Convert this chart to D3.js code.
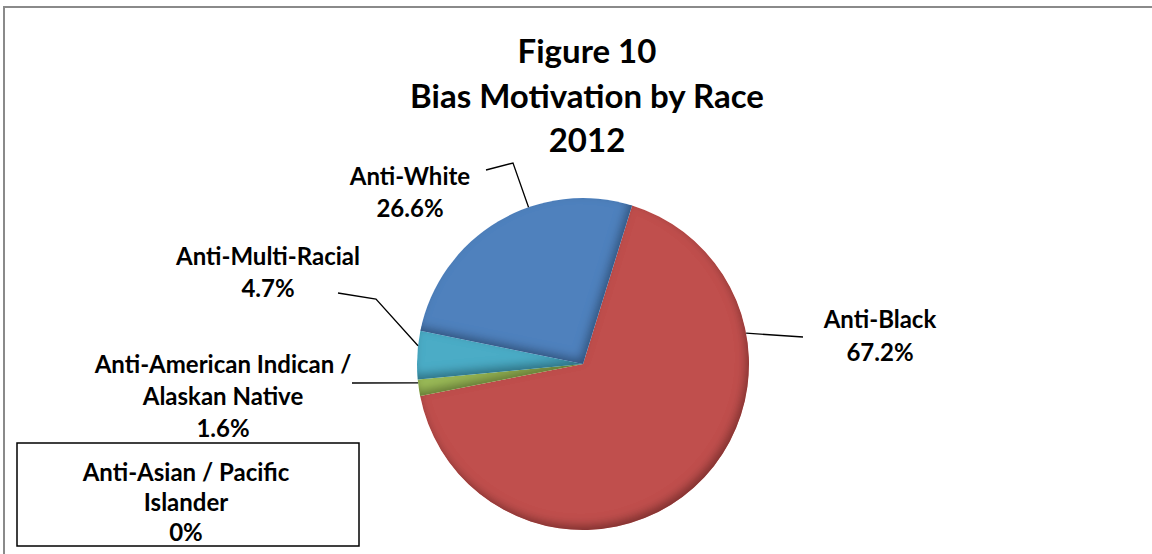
<!DOCTYPE html>
<html>
<head>
<meta charset="utf-8">
<script src="https://cdn.jsdelivr.net/npm/d3@7/dist/d3.min.js"></script>
<style>
html,body{margin:0;padding:0;background:#fff;}
svg text{font-family:Lato,"Open Sans",sans-serif;font-weight:bold;fill:#000;}
</style>
</head>
<body>
<svg id="chart" width="1152" height="554"></svg>
<script>
// ---- data ----
const categories = ["Anti-Black", "Anti-American Indican / Alaskan Native", "Anti-Multi-Racial", "Anti-White", "Anti-Asian / Pacific Islander"];
const values = [67.2, 1.6, 4.7, 26.6, 0];
const valueLabels = ["67.2%", "1.6%", "4.7%", "26.6%", "0%"];
const colors = ["#C0504D", "#9BBB59", "#4BACC6", "#4F81BD", "#8064A2"];
const titleLines = ["Figure 10", "Bias Motivation by Race", "2012"];
const labelLines = [
  ["Anti-Black", "67.2%"],
  ["Anti-American Indican /", "Alaskan Native", "1.6%"],
  ["Anti-Multi-Racial", "4.7%"],
  ["Anti-White", "26.6%"],
  ["Anti-Asian / Pacific", "Islander", "0%"]
];

const svg = d3.select("#chart");
const W = 1152, H = 554;

// frame
svg.append("rect").attr("x", 4).attr("y", 7).attr("width", W + 10).attr("height", H + 10)
  .attr("fill", "none").attr("stroke", "#8a8a8a").attr("stroke-width", 2);

// filter for bevel / inner shadow
const defs = svg.append("defs");
const f = defs.append("filter").attr("id", "bevel").attr("x", "-20%").attr("y", "-20%").attr("width", "140%").attr("height", "140%");
f.append("feGaussianBlur").attr("in", "SourceAlpha").attr("stdDeviation", 5).attr("result", "blur");
f.append("feOffset").attr("in", "blur").attr("dx", -3).attr("dy", -5).attr("result", "off");
f.append("feComposite").attr("in", "SourceAlpha").attr("in2", "off").attr("operator", "arithmetic")
  .attr("k2", 1).attr("k3", -1).attr("result", "edge");
f.append("feFlood").attr("flood-color", "#000").attr("flood-opacity", 0.6).attr("result", "flood");
f.append("feComposite").attr("in", "flood").attr("in2", "edge").attr("operator", "in").attr("result", "shadow");
const fm = f.append("feMerge");
fm.append("feMergeNode").attr("in", "SourceGraphic");
fm.append("feMergeNode").attr("in", "shadow");

// pie
const cx = 583, cy = 364, R = 166;
const startDeg = 17.2;
const pie = d3.pie().sort(null).value(d => d)
  .startAngle(startDeg * Math.PI / 180)
  .endAngle(startDeg * Math.PI / 180 + 2 * Math.PI);
const arcs = pie(values);
const arc = d3.arc().innerRadius(0).outerRadius(R);

const g = svg.append("g").attr("transform", `translate(${cx},${cy})`);
g.selectAll("path.slice").data(arcs.filter(d => d.value > 0)).enter().append("path")
  .attr("class", "slice")
  .attr("d", arc)
  .attr("fill", (d) => colors[d.index])
  .attr("filter", "url(#bevel)");

// title
const title = svg.append("text").attr("text-anchor", "middle").style("font-size", "33px");
titleLines.forEach((t, i) => {
  title.append("tspan").attr("x", 587).attr("y", 63 + i * 44.5).text(t);
});

// label layout (positions of label text and leader line elbows)
const labelLayout = [
  {x: 880, y: 328, lh: 33, attach: 0.257, pts: [[803, 337]]},
  {x: 223, y: 373, lh: 32, attach: 0.8, pts: [[352, 383]]},
  {x: 268, y: 265, lh: 32, attach: 0.69, pts: [[376, 299], [338, 293]]},
  {x: 410, y: 185, lh: 31.5, attach: 0.62, pts: [[513, 163], [486, 170]]},
  null
];

const fontLab = "24px";
arcs.forEach((a, i) => {
  const L = labelLayout[i];
  if (!L) return;
  const ang = a.startAngle + (a.endAngle - a.startAngle) * L.attach;
  const px = cx + R * Math.sin(ang), py = cy - R * Math.cos(ang);
  const pts = [[px, py]].concat(L.pts);
  svg.append("path").attr("d", d3.line()(pts)).attr("fill", "none").attr("stroke", "#000").attr("stroke-width", 1.3);
  const t = svg.append("text").attr("text-anchor", "middle").style("font-size", fontLab);
  labelLines[i].forEach((s, j) => t.append("tspan").attr("x", L.x).attr("y", L.y + j * L.lh).text(s));
});

// zero-value label box
const bi = 4;
svg.append("rect").attr("x", 17).attr("y", 443).attr("width", 342).attr("height", 103)
  .attr("fill", "#fff").attr("stroke", "#000").attr("stroke-width", 1.5);
const tb = svg.append("text").attr("text-anchor", "middle").style("font-size", fontLab);
labelLines[bi].forEach((s, j) => tb.append("tspan").attr("x", 186).attr("y", 481 + j * 30).text(s));
</script>
</body>
</html>
